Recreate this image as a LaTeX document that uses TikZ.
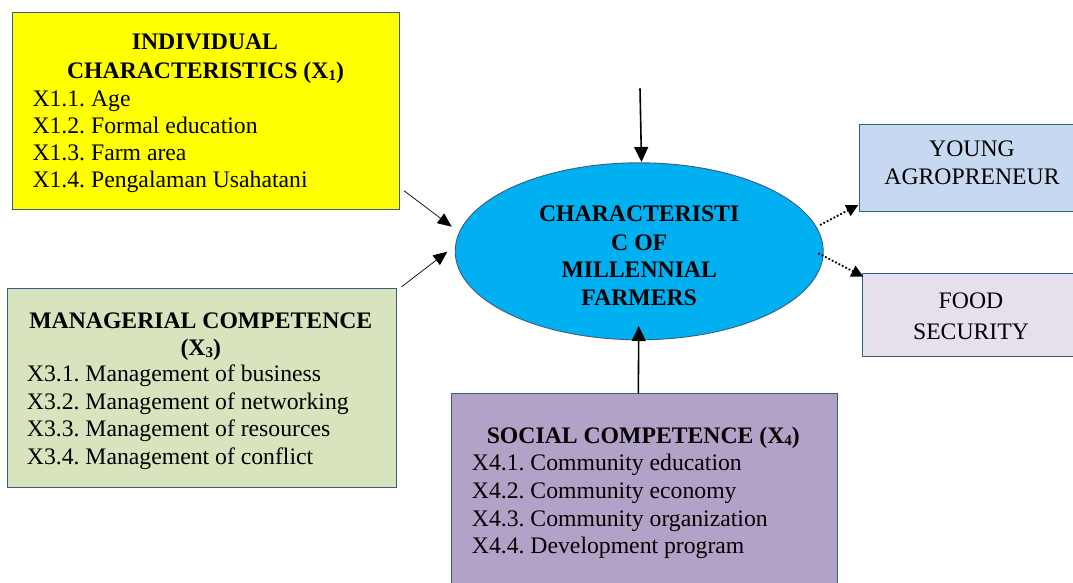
\documentclass[tikz,border=0pt]{standalone}
\usepackage{fontspec}
\setmainfont{Liberation Serif}
\usetikzlibrary{arrows.meta,shapes.geometric}
\frenchspacing
\definecolor{bordc}{HTML}{385D8A}
\definecolor{yelc}{HTML}{FFFF00}
\definecolor{grnc}{HTML}{D7E4BD}
\definecolor{purc}{HTML}{B3A2C7}
\definecolor{bluc}{HTML}{C6D9F1}
\definecolor{lavc}{HTML}{E5E0EC}
\definecolor{ellc}{HTML}{00B0F0}
\newcommand{\mysub}[1]{{\fontsize{15}{15}\selectfont\raisebox{-2pt}{#1}}}
\tikzset{
  boxshape/.style={draw=bordc, line width=0.9pt, rectangle, anchor=north west, inner sep=0pt},
  itemtxt/.style={anchor=base west, inner sep=0pt, font=\fontsize{23.7}{28}\selectfont\frenchspacing},
  titletxt/.style={anchor=base, inner sep=0pt, font=\fontsize{23.7}{28}\selectfont\bfseries},
  plaintxt/.style={anchor=base, inner sep=0pt, font=\fontsize{23.7}{28}\selectfont},
  solidarrow/.style={line width=1.6pt, -{Triangle[length=15pt,width=14pt]}},
  thinarrow/.style={line width=0.7pt, -{Triangle[length=14pt,width=12pt]}},
  dotarrow/.style={line width=1.8pt, dotted, -{Triangle[length=12pt,width=12pt]}},
}
\begin{document}
\begin{tikzpicture}[x=1pt,y=-1pt]
\useasboundingbox (0,0) rectangle (1073,583);
\clip (0,0) rectangle (1073,583);
% boxes
\node[boxshape, fill=yelc, minimum width=387pt, minimum height=197pt] (x1) at (12,12) {};
\node[boxshape, fill=grnc, minimum width=389pt, minimum height=199pt] (x3) at (7.3,288.3) {};
\node[boxshape, fill=purc, minimum width=386pt, minimum height=200pt] (x4) at (450.7,393.3) {};
\node[boxshape, fill=bluc, minimum width=230pt, minimum height=87pt] (ya) at (859.3,124.3) {};
\node[boxshape, fill=lavc, minimum width=230pt, minimum height=83pt] (fs) at (861.7,273.3) {};
\node[draw=bordc, line width=0.9pt, fill=ellc, ellipse, minimum width=368pt, minimum height=177pt, inner sep=0pt] (ell) at (639.2,251.3) {};
% yellow text
\node[titletxt] (x1t1) at (205,50) {INDIVIDUAL};
\node[titletxt] (x1t2) at (205.5,79) {CHARACTERISTICS (X\mysub{1})};
\node[itemtxt] (x1a) at (32.3,106.7) {X1.1. Age};
\node[itemtxt] (x1b) at (32.3,133.8) {X1.2. Formal education};
\node[itemtxt] (x1c) at (32.3,160.8) {X1.3. Farm area};
\node[itemtxt] (x1d) at (32.3,187.7) {X1.4. Pengalaman Usahatani};
% green text
\node[titletxt] (x3t1) at (200.8,328.3) {MANAGERIAL COMPETENCE};
\node[titletxt] (x3t2) at (200.8,355) {(X\mysub{3})};
\node[itemtxt] (x3a) at (26.7,381.7) {X3.1. Management of business};
\node[itemtxt] (x3b) at (26.7,409) {X3.2. Management of networking};
\node[itemtxt] (x3c) at (26.7,436.7) {X3.3. Management of resources};
\node[itemtxt] (x3d) at (26.7,464.3) {X3.4. Management of conflict};
% purple text
\node[titletxt] (x4t1) at (643.3,443.3) {SOCIAL COMPETENCE (X\mysub{4})};
\node[itemtxt] (x4a) at (471.7,470.5) {X4.1. Community education};
\node[itemtxt] (x4b) at (471.7,498.3) {X4.2. Community economy};
\node[itemtxt] (x4c) at (471.7,526) {X4.3. Community organization};
\node[itemtxt] (x4d) at (471.7,553.5) {X4.4. Development program};
% right boxes text
\node[plaintxt] (yat1) at (972,156.7) {YOUNG};
\node[plaintxt] (yat2) at (972,184) {AGROPRENEUR};
\node[plaintxt] (fst1) at (971,308) {FOOD};
\node[plaintxt] (fst2) at (971,339) {SECURITY};
% ellipse text
\node[titletxt] (e1) at (639.2,221.7) {CHARACTERISTI};
\node[titletxt] (e2) at (639.2,250) {C OF};
\node[titletxt] (e3) at (639.2,277) {MILLENNIAL};
\node[titletxt] (e4) at (639.2,305) {FARMERS};
% connector ends
\coordinate (topS) at (640,88.3);
\coordinate (topE) at (641.5,162);
\coordinate (botS) at (638.3,393.3);
\coordinate (botE) at (638.8,326);
\coordinate (yS) at (404,190.7);
\coordinate (yE) at (451.7,226.7);
\coordinate (gS) at (401.7,286.7);
\coordinate (gE) at (447.3,251.7);
\coordinate (aS) at (820,225);
\coordinate (aE) at (858.3,205);
\coordinate (fS) at (818.3,253.3);
\coordinate (fE) at (863.3,276.7);
\draw[solidarrow] (topS) -- (topE);
\draw[solidarrow] (botS) -- (botE);
\draw[thinarrow] (yS) -- (yE);
\draw[thinarrow] (gS) -- (gE);
\draw[dotarrow] (aS) -- (aE);
\draw[dotarrow] (fS) -- (fE);
\end{tikzpicture}
\end{document}
